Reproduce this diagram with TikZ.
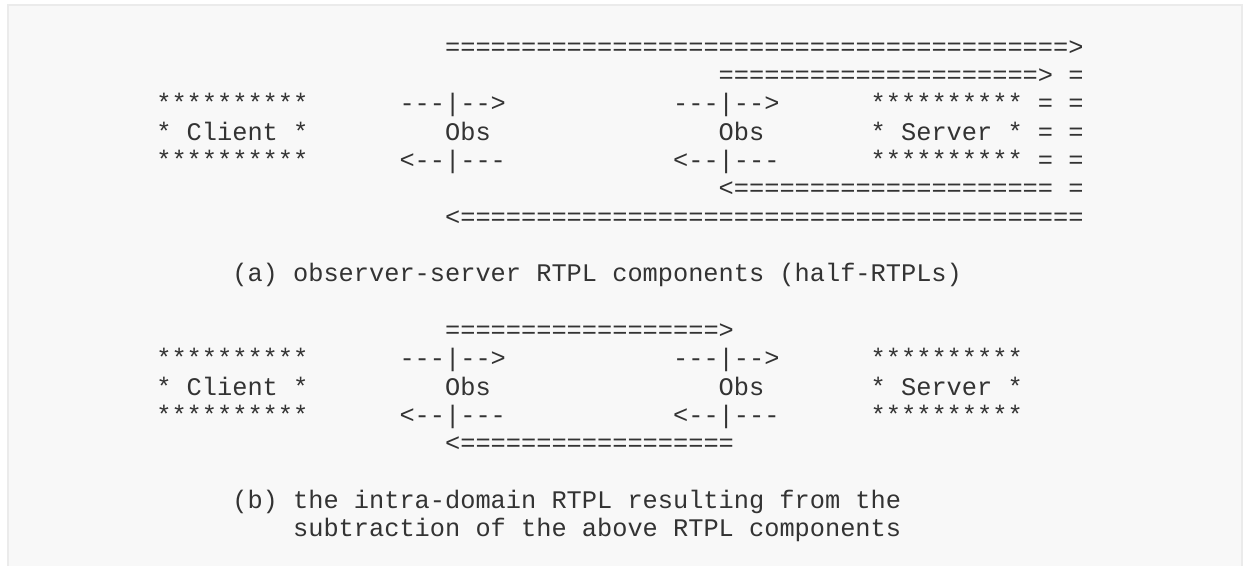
\documentclass[tikz,border=0pt]{standalone}
\usepackage{fontspec}
\usepackage{xcolor}
\usepackage{tikz}
\setmonofont{Liberation Mono}

\definecolor{ink}{HTML}{333333}
\definecolor{paper}{HTML}{F8F8F8}
\definecolor{rim}{HTML}{EBEBEB}

\tikzset{
  txt/.style={anchor=base west, inner sep=0pt, outer sep=0pt, text=ink,
    font=\ttfamily\fontsize{19}{23}\selectfont}
}

\begin{document}
\begin{tikzpicture}[x=0.75pt,y=-0.75pt]
  % Rahmen
  \useasboundingbox (0,0) rectangle (1243,565);
  \fill[white] (0,0) rectangle (1243,565);
  \draw[rim,fill=paper,line width=1.5pt] (8,5) rectangle (1242,575);

  \begin{scope}[shift={(156.3,55)},x=11.4pt,y=-21.25pt]
  % (a) half-RTPLs
  \node[txt] (aLong)   at (19,0) {=========================================>};
  \node[txt] (aShort)  at (37,1) {=====================>};
  \node[txt] (aE1)     at (60,1) {=};
  \node[txt] (aCliT)   at (0,2)  {**********};
  \node[txt] (aFwd1)   at (16,2) {---|-->};
  \node[txt] (aFwd2)   at (34,2) {---|-->};
  \node[txt] (aSrvT)   at (47,2) {**********};
  \node[txt] (aE2)     at (58,2) {=};
  \node[txt] (aE3)     at (60,2) {=};
  \node[txt] (aCli)    at (0,3)  {* Client *};
  \node[txt] (aObs1)   at (19,3) {Obs};
  \node[txt] (aObs2)   at (37,3) {Obs};
  \node[txt] (aSrv)    at (47,3) {* Server *};
  \node[txt] (aE4)     at (58,3) {=};
  \node[txt] (aE5)     at (60,3) {=};
  \node[txt] (aCliB)   at (0,4)  {**********};
  \node[txt] (aBwd1)   at (16,4) {<--|---};
  \node[txt] (aBwd2)   at (34,4) {<--|---};
  \node[txt] (aSrvB)   at (47,4) {**********};
  \node[txt] (aE6)     at (58,4) {=};
  \node[txt] (aE7)     at (60,4) {=};
  \node[txt] (aShortB) at (37,5) {<=====================};
  \node[txt] (aE8)     at (60,5) {=};
  \node[txt] (aLongB)  at (19,6) {<=========================================};
  \node[txt] (aCap)    at (5,8)  {(a) observer-server RTPL components (half-RTPLs)};

  % (b) intra-domain RTPL
  \node[txt] (bFwd)    at (19,10) {==================>};
  \node[txt] (bCliT)   at (0,11)  {**********};
  \node[txt] (bFwd1)   at (16,11) {---|-->};
  \node[txt] (bFwd2)   at (34,11) {---|-->};
  \node[txt] (bSrvT)   at (47,11) {**********};
  \node[txt] (bCli)    at (0,12)  {* Client *};
  \node[txt] (bObs1)   at (19,12) {Obs};
  \node[txt] (bObs2)   at (37,12) {Obs};
  \node[txt] (bSrv)    at (47,12) {* Server *};
  \node[txt] (bCliB)   at (0,13)  {**********};
  \node[txt] (bBwd1)   at (16,13) {<--|---};
  \node[txt] (bBwd2)   at (34,13) {<--|---};
  \node[txt] (bSrvB)   at (47,13) {**********};
  \node[txt] (bBwd)    at (19,14) {<==================};
  \node[txt] (bCap)    at (5,16)  {(b) the intra-domain RTPL resulting from the};
  \node[txt] (bCap2)   at (9,17)  {subtraction of the above RTPL components};
  \end{scope}
\end{tikzpicture}
\end{document}
